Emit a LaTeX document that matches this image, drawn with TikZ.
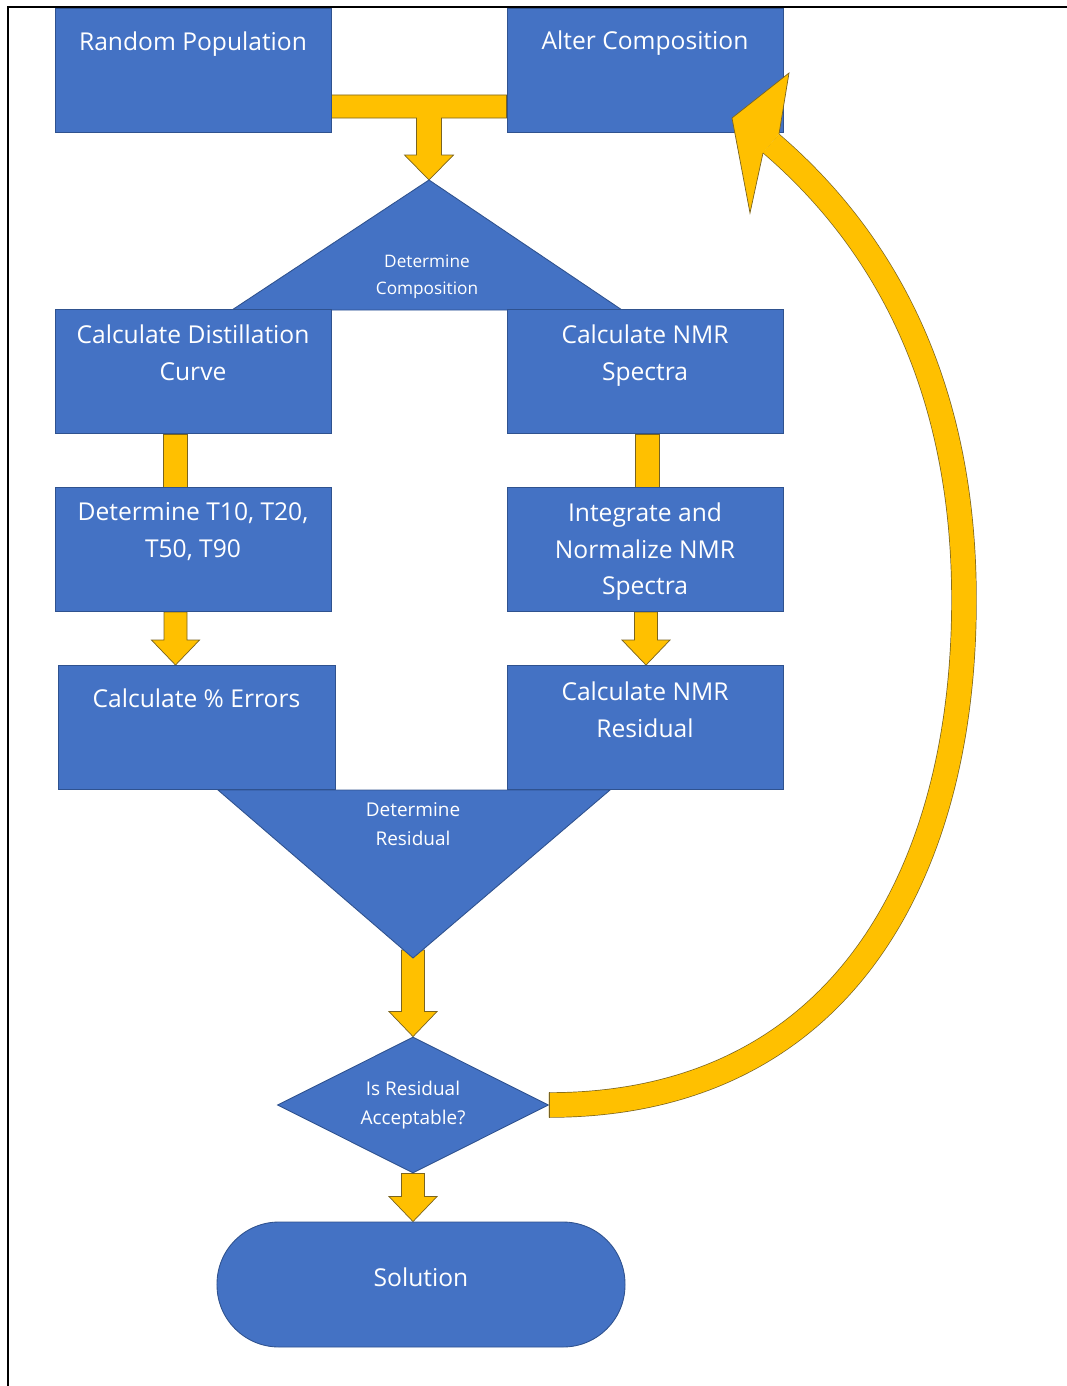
\documentclass[tikz,border=0pt]{standalone}
\usepackage{fontspec}
\setmainfont{Open Sans}
\usetikzlibrary{shapes.geometric,calc,backgrounds}

\definecolor{officeblue}{HTML}{4472C4}
\definecolor{blueedge}{HTML}{2F528F}
\definecolor{arrowgold}{HTML}{FFC000}
\definecolor{goldedge}{HTML}{7A6420}

\newcommand{\blockdown}[2]{%
	\filldraw[arrowbody] let \p1=(#1), \p2=(#2) in
		(\x1-2.3mm,\y1) -- (\x1-2.3mm,\y2+5mm) -- (\x1-4.8mm,\y2+5mm) -- (\x1,\y2)
		-- (\x1+4.8mm,\y2+5mm) -- (\x1+2.3mm,\y2+5mm) -- (\x1+2.3mm,\y1) -- cycle;}
\newcommand{\blockbar}[2]{%
	\filldraw[arrowbody] let \p1=(#1), \p2=(#2) in
		(\x1-2.4mm,\y1) rectangle (\x1+2.4mm,\y2);}

\begin{document}
\begin{tikzpicture}[x=0.2mm, y=-0.2mm,
	box/.style={rectangle, draw=blueedge, fill=officeblue, line width=0.5pt, inner sep=0pt, minimum width=55.2mm, minimum height=24.8mm},
	boxtext/.style={anchor=north, yshift=-3mm, inner sep=0pt, text=white, align=center, font=\fontsize{14}{21}\selectfont},
	smalltext/.style={inner sep=0pt, text=white, align=center, font=\fontsize{9.8}{15.3}\selectfont},
	midtext/.style={inner sep=0pt, text=white, align=center, font=\fontsize{10.8}{16.4}\selectfont},
	shapefill/.style={draw=blueedge, fill=officeblue, line width=0.5pt},
	arrowbody/.style={draw=goldedge, fill=arrowgold, line width=0.4pt},
	loopline/.style={draw=goldedge, line width=0.4pt, double=arrowgold, double distance=4.8mm}]
		\useasboundingbox (0,0) rectangle (1067,1386);
%		\draw[help lines,step=50] (0,0) grid (1067,1386);
		\path (429,180) coordinate (compapex);
		\path (232,310) coordinate (compleft);
		\path (622,310) coordinate (compright);
		\path (429,106.5) coordinate (tjoin);
		\path (413,958) coordinate (resapex);
		\path (218,790) coordinate (resleft);
		\path (610,790) coordinate (resright);
		\path (964,600) coordinate (loopfar);
		\path (771,143.5) coordinate (loopend);

		\filldraw[shapefill] (compapex) -- (compright) -- (compleft) -- cycle;
		\filldraw[shapefill] (resleft) -- (resright) -- (resapex) -- cycle;
		\node[smalltext] (detcomp) at (427,277) {Determine\\Composition};
		\node[midtext] (detres) at (413,824) {Determine\\Residual};

		\node[box, label={[boxtext, yshift=-1.6mm]north:Random Population}] (randpop) at (193,70.5) {};
		\node[box, label={[boxtext, yshift=-1.6mm]north:Alter Composition}] (altcomp) at (645,70) {};
		\node[box, label={[boxtext]north:Calculate Distillation\\Curve}] (calcdist) at (193,371.5) {};
		\node[box, label={[boxtext]north:Calculate NMR\\Spectra}] (calcnmr) at (645,371.5) {};
		\node[box, label={[boxtext]north:Determine T10, T20,\\T50, T90}] (dett) at (193,549.5) {};
		\node[box, label={[boxtext]north:Integrate and\\Normalize NMR\\Spectra}] (integ) at (645,549.5) {};
		\node[box, minimum width=55.4mm, label={[boxtext, yshift=-1.6mm]north:Calculate \% Errors}] (calcerr) at (196.5,727.5) {};
		\node[box, label={[boxtext, yshift=-0.2mm]north:Calculate NMR\\Residual}] (nmrres) at (645,727.5) {};

		\node[diamond, aspect=2, shapefill, midtext, minimum width=54.2mm, minimum height=27.2mm] (resok) at (413,1105) {Is Residual\\Acceptable?};
		\node[box, rounded corners=12.4mm, minimum width=81.6mm, minimum height=25mm, text=white, font=\fontsize{14}{21}\selectfont, text depth=2.8mm] (sol) at (421,1284.5) {Solution};

		\begin{scope}[on background layer]
			\filldraw[arrowbody] let \p1=(randpop.east), \p2=(altcomp.west), \p3=(compapex), \p4=(tjoin) in
				(\x1,\y4+2.3mm) -- (\x2,\y4+2.3mm) -- (\x2,\y4-2.3mm) -- (\x3+2.5mm,\y4-2.3mm)
				-- (\x3+2.5mm,\y3+5mm) -- (\x3+4.9mm,\y3+5mm) -- (\x3,\y3) -- (\x3-4.9mm,\y3+5mm)
				-- (\x3-2.5mm,\y3+5mm) -- (\x3-2.5mm,\y4-2.3mm) -- (\x1,\y4-2.3mm) -- cycle;
			\blockbar{[xshift=-3.6mm]calcdist.south}{[xshift=-3.6mm]dett.north}
			\blockbar{[xshift=0.4mm]calcnmr.south}{[xshift=0.4mm]integ.north}
			\blockdown{[xshift=-3.5mm]dett.south}{calcerr.north}
			\blockdown{[xshift=0.2mm]integ.south}{nmrres.north}
			\blockdown{[yshift=1.6mm]resapex}{resok.north}
			\blockdown{resok.south}{sol.north}
		\end{scope}

		\draw[loopline] (resok.east) .. controls (840,1105) and (964,875) .. (loopfar)
			.. controls (964,380) and (880,237) .. (loopend);
		\draw[goldedge, line width=0.4pt] ([yshift=2.6mm]resok.east) -- ([yshift=-2.6mm]resok.east);
		\fill[arrowgold] (732,118) -- (789,73) -- (779,134) -- (763,153) -- (750,213) -- cycle;
		\draw[goldedge, line width=0.4pt] (779,134) -- (789,73) -- (732,118) -- (750,213) -- (763,153);

		\draw[line width=0.55mm] (8,1386) -- (8,7) -- (1067,7);
	\end{tikzpicture}
\end{document}
